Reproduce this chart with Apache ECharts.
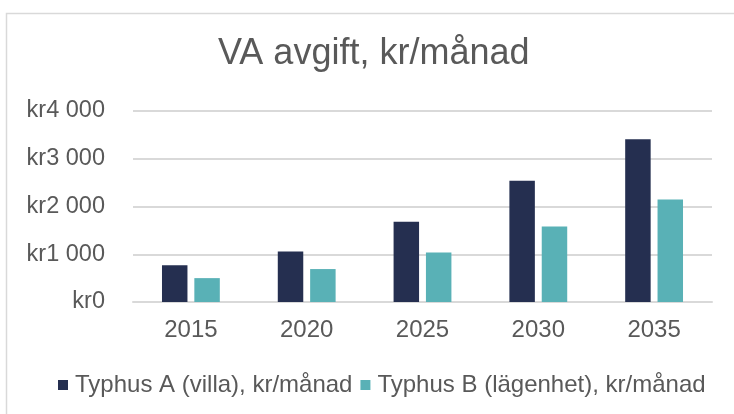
<!DOCTYPE html>
<html><head><meta charset="utf-8">
<script src="https://cdn.jsdelivr.net/npm/echarts@6/dist/echarts.min.js"></script>
<style>html,body{margin:0;padding:0;background:#fff}#c{width:734px;height:414px}</style>
</head><body><div id="c"></div>
<script>
const categories = ['2015','2020','2025','2030','2035'];
const seriesA = [770, 1060, 1680, 2540, 3410];
const seriesB = [500, 690, 1035, 1580, 2145];
const nameA = 'Typhus A (villa), kr/månad';
const nameB = 'Typhus B (lägenhet), kr/månad';
const titleText = 'VA avgift, kr/månad';

const chart = echarts.init(document.getElementById('c'));
const fmt = v => 'kr' + (v >= 1000 ? Math.floor(v/1000) + ' ' + String(v%1000).padStart(3,'0') : v);
chart.setOption({
  animation: false,
  textStyle: {fontFamily: 'Liberation Sans'},
  graphic: [{type:'rect', shape:{x:6.5, y:13.5, width:760, height:420}, style:{fill:'none', stroke:'#d9d9d9', lineWidth:1.5}}],
  title: {text: titleText, left: 218, top: 36, padding: 0, textStyle: {fontSize: 36, fontWeight: 'normal', color: '#595959', fontFamily: 'Liberation Sans'}},
  grid: {left: 133, right: 22, top: 111, bottom: 112},
  legend: {top: 368, left: 53, itemWidth: 10, itemHeight: 10, itemGap: 8, icon: 'rect',
    textStyle: {fontSize: 24, color: '#595959', padding: [0,0,0,2]}, data: [nameA, nameB]},
  xAxis: {type: 'category', data: categories,
    axisLine: {lineStyle: {color: '#d9d9d9', width: 2}}, axisTick: {show: false},
    axisLabel: {fontSize: 24, color: '#595959', margin: 16}},
  yAxis: {type: 'value', min: 0, max: 4000, interval: 1000,
    axisLine: {show: false}, axisTick: {show: false},
    splitLine: {lineStyle: {color: '#d9d9d9', width: 2}},
    axisLabel: {fontSize: 23.5, color: '#595959', margin: 28, formatter: fmt}},
  series: [
    {name: nameA, type: 'bar', data: seriesA, barWidth: '22%', barGap: '27%', itemStyle: {color: '#252f50'}},
    {name: nameB, type: 'bar', data: seriesB, barWidth: '22%', itemStyle: {color: '#59b1b6'}}
  ]
});
</script></body></html>
